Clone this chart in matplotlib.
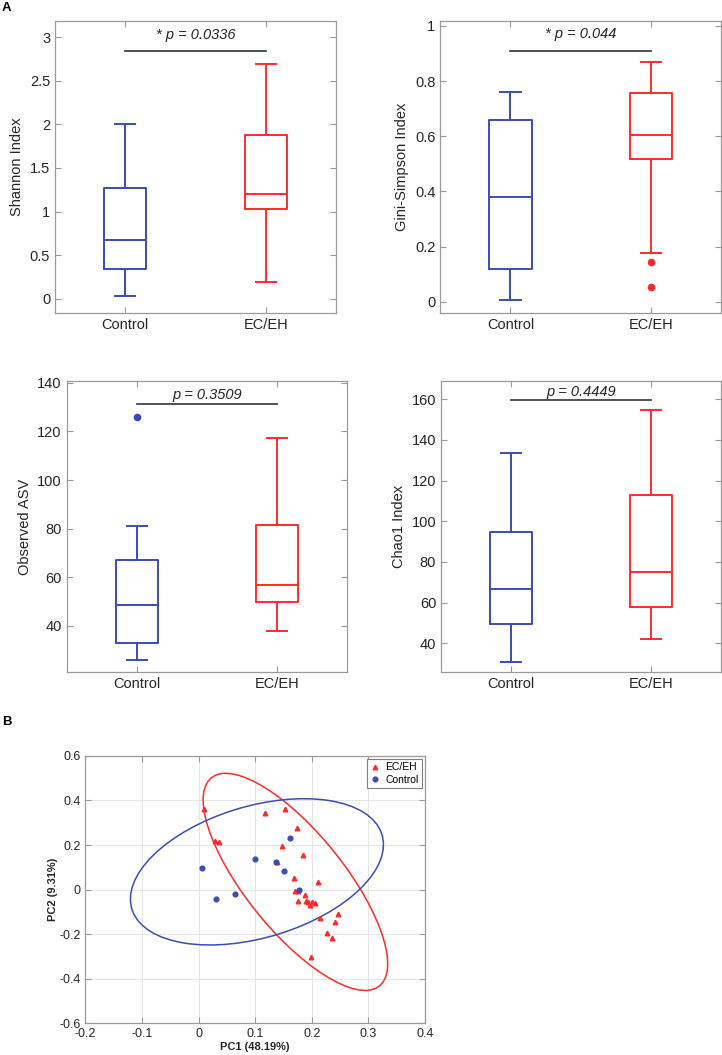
import numpy as np
import matplotlib.pyplot as plt
from matplotlib.patches import Ellipse
from matplotlib.ticker import FormatStrFormatter

plt.rcParams['font.family'] = ['Liberation Sans', 'DejaVu Sans']
plt.rcParams['axes.unicode_minus'] = False

groups = ["Control", "EC/EH"]

# box stats as [whisker low, q1, median, q3, whisker high]
shannon_ctrl = [0.03, 0.34, 0.67, 1.27, 2.00]
shannon_ec = [0.19, 1.03, 1.20, 1.88, 2.69]
gini_ctrl = [0.007, 0.12, 0.38, 0.66, 0.76]
gini_ec = [0.175, 0.518, 0.605, 0.755, 0.87]
gini_ec_out = [0.143, 0.053]
asv_ctrl = [26.0, 33.0, 48.5, 67.1, 81.1]
asv_ctrl_out = [126.0]
asv_ec = [38.0, 49.7, 57.0, 81.6, 117.1]
chao_ctrl = [30.8, 49.5, 66.5, 94.9, 133.7]
chao_ec = [42.2, 58.0, 75.0, 112.9, 154.6]

p_texts = ["* p = 0.0336", "* p = 0.044", "p = 0.3509", "p = 0.4449"]
ylabels = ["Shannon Index", "Gini-Simpson Index", "Observed ASV", "Chao1 Index"]

# PCoA scores
ec_pc1 = [0.010, 0.117, 0.152, 0.173, 0.029, 0.036, 0.148, 0.185, 0.138, 0.168,
          0.211, 0.170, 0.176, 0.188, 0.175, 0.190, 0.193, 0.200, 0.206, 0.196,
          0.215, 0.247, 0.241, 0.226, 0.236, 0.198]
ec_pc2 = [0.363, 0.342, 0.364, 0.277, 0.219, 0.216, 0.196, 0.156, 0.126, 0.053,
          0.036, -0.006, -0.006, -0.022, -0.052, -0.049, -0.056, -0.055, -0.059, -0.070,
          -0.125, -0.107, -0.146, -0.196, -0.218, -0.303]
ctrl_pc1 = [0.006, 0.030, 0.065, 0.100, 0.136, 0.151, 0.162, 0.178]
ctrl_pc2 = [0.096, -0.044, -0.021, 0.139, 0.124, 0.083, 0.233, -0.003]

# confidence ellipses: centre and covariance
ec_centre = [0.171, 0.035]
ec_cov = [[0.0266, -0.0600], [-0.0600, 0.2370]]
ctrl_centre = [0.103, 0.080]
ctrl_cov = [[0.0500, 0.0273], [0.0273, 0.1076]]

blue = "#3a4db3"
red = "#ff2b2b"
tick_col = "#262626"
spine_col = "#9a9a9a"


def stats(vals, fliers=()):
    return dict(whislo=vals[0], q1=vals[1], med=vals[2], q3=vals[3],
                whishi=vals[4], fliers=list(fliers))


def style_axes(ax):
    for s in ax.spines.values():
        s.set_color(spine_col)
        s.set_linewidth(0.9)
    ax.tick_params(direction="in", length=4, width=0.8, color=spine_col,
                   top=True, right=True, labelcolor=tick_col)


fig = plt.figure(figsize=(7.22, 10.55), dpi=100)

rects = [[0.0762, 0.7033, 0.3892, 0.2771],
         [0.6098, 0.7033, 0.3888, 0.2771],
         [0.0924, 0.3633, 0.3886, 0.2755],
         [0.6108, 0.3633, 0.3878, 0.2758]]
box_data = [(stats(shannon_ctrl), stats(shannon_ec)),
            (stats(gini_ctrl), stats(gini_ec, gini_ec_out)),
            (stats(asv_ctrl, asv_ctrl_out), stats(asv_ec)),
            (stats(chao_ctrl), stats(chao_ec))]
ylims = [(-0.164, 3.19), (-0.041, 1.019), (21.2, 140.7), (26.0, 169.1)]
yticks = [np.arange(0, 3.01, 0.5), np.arange(0, 1.01, 0.2),
          np.arange(40, 141, 20), np.arange(40, 161, 20)]
bar_y = [2.843, 0.909, 131.2, 159.7]
text_y = [3.03, 0.97, 134.9, 163.6]

for i in range(4):
    ax = fig.add_axes(rects[i])
    for j, (st, col) in enumerate(zip(box_data[i], [blue, red])):
        lp = dict(color=col, linewidth=1.4)
        ax.bxp([st], positions=[j + 1], widths=0.3, capwidths=0.145,
               showfliers=True, boxprops=lp, whiskerprops=lp, capprops=lp,
               medianprops=lp,
               flierprops=dict(marker="o", markerfacecolor=col,
                               markeredgecolor=col, markersize=4.5))
    ax.set_xlim(0.5, 2.5)
    ax.set_ylim(*ylims[i])
    ax.set_yticks(np.round(yticks[i], 2))
    ax.yaxis.set_major_formatter(FormatStrFormatter("%g"))
    ax.set_xticks([1, 2])
    ax.set_xticklabels(groups)
    ax.set_ylabel(ylabels[i], fontsize=10.5, color=tick_col)
    ax.tick_params(labelsize=10.5)
    ax.plot([1, 2], [bar_y[i], bar_y[i]], color="#333333", lw=1.2)
    ax.text(1.5, text_y[i], p_texts[i], ha="center", va="center",
            fontsize=10.5, style="italic", color=tick_col)
    style_axes(ax)

# PCoA panel
ax = fig.add_axes([0.1184, 0.0299, 0.4702, 0.2536])
ax.grid(True, color="#e6e6e6", linewidth=0.7)
ax.set_axisbelow(True)

for centre, cov, col in [(ec_centre, ec_cov, red), (ctrl_centre, ctrl_cov, blue)]:
    vals, vecs = np.linalg.eigh(np.array(cov))
    ang = np.degrees(np.arctan2(vecs[1, 1], vecs[0, 1]))
    ell = Ellipse(centre, 2 * np.sqrt(vals[1]), 2 * np.sqrt(vals[0]), angle=ang,
                  facecolor="none", edgecolor=col, linewidth=1.1)
    ax.add_patch(ell)

ax.plot(ec_pc1, ec_pc2, "^", color=red, markersize=3.3, linestyle="none",
        label="EC/EH")
ax.plot(ctrl_pc1, ctrl_pc2, "o", color=blue, markersize=3.4, linestyle="none",
        label="Control")

ax.set_xlim(-0.2, 0.4)
ax.set_ylim(-0.6, 0.6)
ax.set_xticks(np.round(np.arange(-0.2, 0.41, 0.1), 2))
ax.set_yticks(np.round(np.arange(-0.6, 0.61, 0.2), 2))
ax.xaxis.set_major_formatter(FormatStrFormatter("%g"))
ax.yaxis.set_major_formatter(FormatStrFormatter("%g"))
ax.tick_params(labelsize=9)
ax.set_xlabel("PC1 (48.19%)", fontsize=8, fontweight="bold", color=tick_col,
              labelpad=1)
ax.set_ylabel("PC2 (9.31%)", fontsize=8, fontweight="bold", color=tick_col,
              labelpad=1)
style_axes(ax)
leg = ax.legend(loc="upper right", fontsize=7.5, handlelength=1.0,
                handletextpad=0.5, borderpad=0.3, labelspacing=0.25,
                borderaxespad=0.3, fancybox=False, framealpha=1)
leg.get_frame().set_edgecolor("#7f7f7f")
leg.get_frame().set_linewidth(0.8)

fig.text(0.003, 0.992, "A", fontsize=9.5, fontweight="bold", va="center")
fig.text(0.003, 0.316, "B", fontsize=9.5, fontweight="bold", va="center")

fig.savefig("out.png", dpi=100)
